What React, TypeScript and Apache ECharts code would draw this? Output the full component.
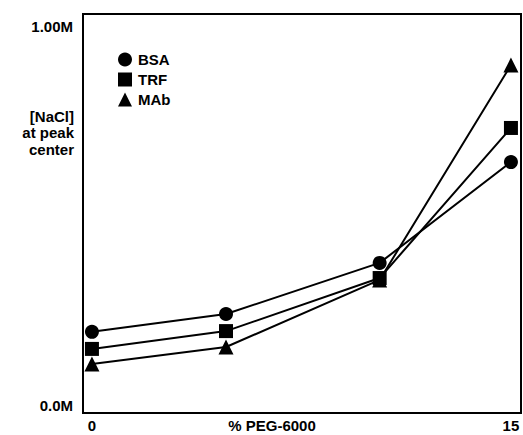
import React, { useEffect, useRef } from "react";
import * as echarts from "echarts";

const seriesNames = ["BSA", "TRF", "MAb"];
const symbols = ["circle", "rect", "triangle"];
const pegPercent = [0, 4.8, 10.3, 15];
const bsa = [0.193, 0.24, 0.375, 0.641];
const trf = [0.148, 0.195, 0.335, 0.731];
const mab = [0.108, 0.153, 0.33, 0.897];
const yTickValues = [0, 1];
const yTickLabels = ["0.0M", "1.00M"];
const xTickValues = [0, 15];
const xTickLabels = ["0", "15"];

const FONT = "Liberation Sans, Arial, Helvetica, sans-serif";

export default function App() {
  const ref = useRef<HTMLDivElement>(null);
  useEffect(() => {
    if (!ref.current) return;
    const chart = echarts.init(ref.current, null, { renderer: "svg" });
    const values = [bsa, trf, mab];
    const txt = { color: "#000", fontSize: 15, fontWeight: "bold", fontFamily: FONT };
    chart.setOption({
      animation: false,
      backgroundColor: "#fff",
      textStyle: { fontFamily: FONT },
      grid: {
        left: 83,
        right: 2,
        top: 14,
        bottom: 22,
        outerBoundsMode: "none",
        containLabel: false,
        show: true,
        borderColor: "#000",
        borderWidth: 2,
        backgroundColor: "transparent",
      },
      legend: {
        orient: "vertical",
        left: 113,
        top: 47,
        itemWidth: 14,
        itemHeight: 14,
        itemGap: 5,
        data: seriesNames.map((n, i) => ({ name: n, icon: symbols[i] })),
        textStyle: { ...txt, padding: [0, 0, 0, 1] },
        itemStyle: { color: "#000" },
      },
      xAxis: {
        type: "value",
        min: -0.32,
        max: 15.36,
        splitLine: { show: false },
        axisLine: { show: false },
        axisTick: { show: false },
        axisLabel: {
          customValues: xTickValues,
          formatter: (v: number) => xTickLabels[xTickValues.indexOf(v)] ?? "",
          ...txt,
          margin: 5,
        },
        name: "% PEG-6000",
        nameLocation: "middle",
        nameGap: 5,
        nameMoveOverlap: false,
        nameTextStyle: {
          ...txt,
          verticalAlign: "top",
          padding: [0, 60, 0, 0],
        },
      },
      yAxis: {
        type: "value",
        min: -0.0211,
        max: 1.0317,
        splitLine: { show: false },
        axisLine: { show: false },
        axisTick: { show: false },
        axisLabel: {
          customValues: yTickValues,
          formatter: (v: number) => yTickLabels[yTickValues.indexOf(v)] ?? "",
          ...txt,
          margin: 10,
        },
      },
      graphic: [
        {
          type: "text",
          x: 74,
          y: 108,
          style: {
            text: "[NaCl]\nat peak\ncenter",
            fill: "#000",
            font: `bold 15px ${FONT}`,
            textAlign: "right",
            lineHeight: 16.5,
          },
        },
      ],
      series: seriesNames.map((n, i) => ({
        name: n,
        type: "line",
        symbol: symbols[i],
        symbolSize: i === 2 ? 15 : 14,
        data: pegPercent.map((x, j) => [x, values[i][j]]),
        lineStyle: { color: "#000", width: 2 },
        itemStyle: { color: "#000" },
        z: 3 - i,
      })),
    });
    return () => chart.dispose();
  }, []);
  return <div ref={ref} style={{ width: 523, height: 435, position: "absolute", left: 0, top: 0 }} />;
}
